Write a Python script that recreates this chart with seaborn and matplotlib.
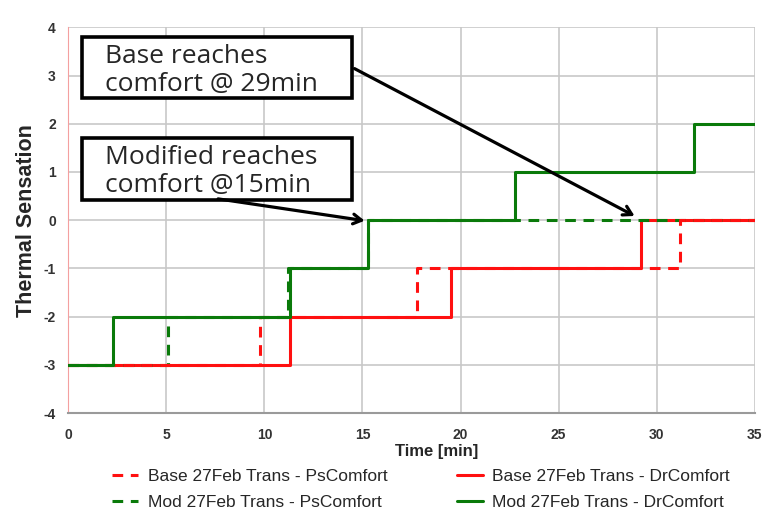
import matplotlib
matplotlib.use("Agg")
import matplotlib.pyplot as plt
from matplotlib.patches import Rectangle
import seaborn as sns

# step change times [min] and thermal sensation levels
base_ps_t = [0, 9.8, 17.8, 31.2, 35]
base_ps_v = [-3, -2, -1, 0, 0]
base_dr_t = [0, 11.3, 19.5, 29.2, 35]
base_dr_v = [-3, -2, -1, 0, 0]
mod_ps_t = [0, 5.1, 11.2, 15.3, 35]
mod_ps_v = [-3, -2, -1, 0, 0]
mod_dr_t = [0, 2.3, 11.3, 15.3, 22.8, 31.9, 35]
mod_dr_v = [-3, -2, -1, 0, 1, 2, 2]

labels = ["Base 27Feb Trans - PsComfort", "Base 27Feb Trans - DrComfort",
          "Mod 27Feb Trans - PsComfort", "Mod 27Feb Trans - DrComfort"]

sns.set_style("white")
plt.rcParams['font.family'] = ['Liberation Sans', 'DejaVu Sans']
plt.rcParams['axes.unicode_minus'] = False

red = "#ff1010"
green = "#0a7a0a"

fig = plt.figure(figsize=(7.67, 5.15), dpi=100)
ax = fig.add_axes([0.089, 0.198, 0.895, 0.749])

dash = (0, (3.5, 2.5))
sns.lineplot(x=base_dr_t, y=base_dr_v, drawstyle='steps-post', color=red, lw=2.2, label=labels[1], ax=ax, zorder=3)
sns.lineplot(x=base_ps_t, y=base_ps_v, drawstyle='steps-post', color=red, lw=2.2, ls=dash, label=labels[0], ax=ax, zorder=4)
sns.lineplot(x=mod_ps_t, y=mod_ps_v, drawstyle='steps-post', color=green, lw=2.2, ls=dash, label=labels[2], ax=ax, zorder=3)
sns.lineplot(x=mod_dr_t, y=mod_dr_v, drawstyle='steps-post', color=green, lw=2.2, label=labels[3], ax=ax, zorder=5)
h, l = ax.get_legend_handles_labels()
ax.get_legend().remove()

ax.set_xlim(0, 35)
ax.set_ylim(-4, 4)
ax.set_xticks(range(0, 36, 5))
ax.set_yticks(range(-4, 5))
ax.grid(True, color="#c8c8c8", lw=1.2)
for s in ["top", "right"]:
    ax.spines[s].set_visible(False)
ax.spines["left"].set_color("#f4a0a0")
ax.spines["bottom"].set_color("#9a9a9a")
ax.spines["bottom"].set_linewidth(1.5)
ax.tick_params(axis="both", length=3, color="#9a9a9a", labelsize=10, labelcolor="#333333")
ax.tick_params(axis="y", color="#f4a0a0", pad=6)
ax.tick_params(axis="x", pad=8)
for t in ax.get_xticklabels() + ax.get_yticklabels():
    t.set_fontweight("bold")
ax.set_xlabel("Time [min]", fontsize=12, fontweight="bold")
ax.xaxis.set_label_coords(0.537, -0.08)
ax.set_ylabel("Thermal Sensation", fontsize=15.5, fontweight="bold")
ax.yaxis.set_label_coords(-0.045, 0.5)

# annotation boxes
for y0, y1, txt in [(2.53, 3.79, "Base reaches\ncomfort @ 29min"),
                    (0.42, 1.70, "Modified reaches\ncomfort @15min")]:
    ax.add_patch(Rectangle((0.71, y0), 13.76, y1 - y0, fc="white", ec="black", lw=2.6, zorder=6))
    ax.text(1.85, (y0 + y1) / 2 - 0.05, txt, fontsize=19, family="Open Sans",
            va="center", ha="left", zorder=7, linespacing=1.15)
arrow = dict(arrowstyle="->,head_length=0.6,head_width=0.35", color="black", lw=2.3)
ax.annotate("", xy=(29.0, 0.06), xytext=(14.47, 3.17), arrowprops=arrow, zorder=6)
ax.annotate("", xy=(15.25, -0.02), xytext=(7.5, 0.45), arrowprops=arrow, zorder=6)

order = [labels[0], labels[2], labels[1], labels[3]]
hs = [h[l.index(n)] for n in order]
fig.legend(hs, order, ncol=2, loc="upper left", bbox_to_anchor=(0.146, 0.089),
           frameon=False, fontsize=12.5, handlelength=1.5, columnspacing=4.0,
           handletextpad=0.55, labelspacing=0.62, borderaxespad=0, borderpad=0)

fig.savefig("out.png", dpi=100)
